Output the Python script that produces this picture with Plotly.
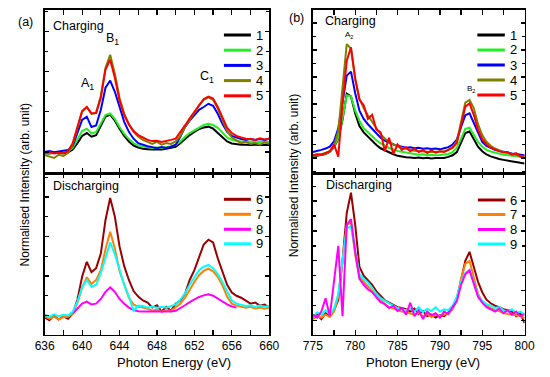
import plotly.graph_objects as go

W, H = 550, 377

# ---------------- data ----------------
energy_fe = [636.0, 636.5, 637.0, 637.5, 638.0, 638.5, 639.0, 639.5, 640.0, 640.5,
             641.0, 641.5, 642.0, 642.5, 643.0, 643.5, 644.0, 644.5, 645.0, 645.5,
             646.0, 646.5, 647.0, 647.5, 648.0, 648.5, 649.0, 649.5, 650.0, 650.5,
             651.0, 651.5, 652.0, 652.5, 653.0, 653.5, 654.0, 654.5, 655.0, 655.5,
             656.0, 656.5, 657.0, 657.5, 658.0, 658.5, 659.0, 659.5, 660.0]

energy_co = [775.0, 775.5, 776.0, 776.5, 777.0, 777.5, 778.0, 778.5, 779.0, 779.5,
             780.0, 780.5, 781.0, 781.5, 782.0, 782.5, 783.0, 783.5, 784.0, 784.5,
             785.0, 785.5, 786.0, 786.5, 787.0, 787.5, 788.0, 788.5, 789.0, 789.5,
             790.0, 790.5, 791.0, 791.5, 792.0, 792.5, 793.0, 793.5, 794.0, 794.5,
             795.0, 795.5, 796.0, 796.5, 797.0, 797.5, 798.0, 798.5, 799.0, 799.5, 800.0]

# (a) Charging
fe_c1 = [0.97, 0.96, 0.98, 0.97, 0.97, 0.99, 1.06, 1.22, 1.40, 1.47, 1.38, 1.42, 1.65, 1.88, 1.93,
         1.78, 1.58, 1.40, 1.26, 1.16, 1.11, 1.08, 1.07, 1.06, 1.07, 1.06, 1.08, 1.10, 1.13, 1.22,
         1.33, 1.42, 1.50, 1.57, 1.61, 1.63, 1.58, 1.48, 1.36, 1.26, 1.21, 1.19, 1.18, 1.18, 1.17,
         1.18, 1.17, 1.18, 1.17]
fe_c2 = [0.98, 0.97, 0.99, 0.98, 0.99, 1.02, 1.10, 1.30, 1.52, 1.58, 1.46, 1.50, 1.72, 1.92, 1.96,
         1.82, 1.62, 1.45, 1.32, 1.22, 1.16, 1.13, 1.12, 1.10, 1.11, 1.10, 1.12, 1.14, 1.17, 1.26,
         1.38, 1.47, 1.54, 1.61, 1.67, 1.70, 1.67, 1.60, 1.47, 1.36, 1.30, 1.27, 1.26, 1.25, 1.26,
         1.24, 1.25, 1.26, 1.24]
fe_c3 = [1.00, 1.02, 0.99, 1.01, 1.03, 1.05, 1.15, 1.45, 1.80, 1.88, 1.62, 1.66, 2.05, 2.60, 2.78,
         2.50, 2.10, 1.75, 1.50, 1.33, 1.22, 1.17, 1.14, 1.12, 1.09, 1.12, 1.10, 1.13, 1.18, 1.38,
         1.62, 1.78, 1.92, 2.05, 2.12, 2.20, 2.15, 1.95, 1.70, 1.50, 1.40, 1.35, 1.32, 1.30, 1.33,
         1.30, 1.32, 1.30, 1.33]
fe_c4 = [0.92, 0.88, 0.85, 0.93, 0.90, 0.98, 1.18, 1.60, 2.00, 2.12, 1.95, 1.98, 2.40, 3.10, 3.42,
         2.95, 2.35, 1.95, 1.70, 1.50, 1.38, 1.30, 1.24, 1.20, 1.25, 1.18, 1.22, 1.20, 1.26, 1.40,
         1.62, 1.80, 1.98, 2.16, 2.30, 2.36, 2.30, 2.08, 1.80, 1.52, 1.36, 1.28, 1.22, 1.25, 1.20,
         1.22, 1.18, 1.24, 1.20]
fe_c5 = [0.97, 0.99, 0.96, 0.98, 0.97, 1.02, 1.22, 1.62, 2.02, 2.12, 1.96, 1.97, 2.35, 3.05, 3.30,
         2.85, 2.28, 1.92, 1.68, 1.52, 1.42, 1.36, 1.30, 1.27, 1.28, 1.25, 1.27, 1.30, 1.33, 1.48,
         1.66, 1.84, 2.00, 2.18, 2.32, 2.38, 2.33, 2.12, 1.84, 1.60, 1.47, 1.40, 1.36, 1.33, 1.32,
         1.30, 1.34, 1.31, 1.33]

# (a) Discharging
fe_d6 = [0.95, 0.88, 1.00, 0.90, 0.98, 0.92, 1.05, 1.40, 1.98, 2.36, 2.10, 2.20, 2.57, 3.42, 3.98,
         3.50, 2.75, 2.25, 1.90, 1.62, 1.48, 1.38, 1.33, 1.20, 1.26, 1.10, 1.22, 1.12, 1.30, 1.38,
         1.55, 1.90, 2.15, 2.50, 2.80, 2.92, 2.85, 2.45, 2.10, 1.78, 1.58, 1.50, 1.45, 1.38, 1.30,
         1.33, 1.25, 1.28, 1.20]
fe_d7 = [0.98, 0.92, 0.97, 0.90, 0.96, 0.97, 1.05, 1.32, 1.70, 1.97, 1.80, 1.90, 2.15, 2.68, 3.12,
         2.70, 2.12, 1.78, 1.45, 1.28, 1.22, 1.20, 1.17, 1.12, 1.15, 1.10, 1.13, 1.12, 1.20, 1.30,
         1.45, 1.67, 1.85, 2.02, 2.13, 2.19, 2.12, 1.98, 1.76, 1.48, 1.30, 1.25, 1.22, 1.20, 1.22,
         1.18, 1.20, 1.17, 1.20]
fe_d8 = [None, None, None, None, None, None, 1.05, 1.18, 1.30, 1.35, 1.28, 1.30, 1.42, 1.60, 1.71,
         1.60, 1.42, 1.30, 1.20, 1.14, 1.11, 1.10, 1.10, 1.10, 1.10, 1.10, 1.10, 1.10, 1.12, 1.18,
         1.26, 1.34, 1.41, 1.47, 1.51, 1.54, 1.50, 1.43, 1.34, 1.28, 1.23, 1.20, None, None, None,
         None, None, None, None]
fe_d9 = [1.02, 0.97, 1.03, 0.98, 1.02, 1.00, 1.10, 1.35, 1.72, 1.90, 1.73, 1.78, 2.08, 2.50, 2.85,
         2.55, 2.15, 1.78, 1.48, 1.12, 1.25, 1.24, 1.20, 1.23, 1.19, 1.22, 1.20, 1.24, 1.28, 1.40,
         1.56, 1.78, 1.98, 2.15, 2.24, 2.28, 2.20, 2.05, 1.85, 1.60, 1.38, 1.30, 1.27, 1.24, 1.26,
         1.22, 1.25, 1.22, 1.24]

# (b) Charging
co_c1 = [1.05, 1.08, 1.10, 1.15, 1.23, 1.40, 1.72, 2.41, 3.38, 3.28, 2.65, 2.18, 1.95, 1.78, 1.64,
         1.48, 1.36, 1.28, 1.20, 1.14, 1.08, 1.05, 1.03, 1.02, 1.00, 1.02, 0.99, 1.01, 0.98, 1.00,
         0.99, 1.00, 1.04, 1.10, 1.22, 1.55, 1.92, 1.98, 1.72, 1.42, 1.25, 1.13, 1.06, 1.00, 0.96,
         0.93, 0.90, 0.86, 0.84, 0.82, 0.80]
co_c2 = [1.10, 1.12, 1.15, 1.18, 1.26, 1.42, 1.75, 2.45, 3.32, 3.28, 2.75, 2.38, 2.10, 1.95, 1.82,
         1.66, 1.54, 1.45, 1.37, 1.32, 1.26, 1.23, 1.20, 1.18, 1.15, 1.12, 1.14, 1.10, 1.12, 1.10,
         1.11, 1.12, 1.15, 1.22, 1.38, 1.72, 2.08, 2.12, 1.88, 1.60, 1.42, 1.30, 1.24, 1.20, 1.15,
         1.12, 1.10, 1.08, 1.06, 1.05, 1.05]
co_c3 = [1.22, 1.25, 1.30, 1.35, 1.42, 1.62, 2.10, 3.05, 4.05, 4.20, 3.40, 2.75, 2.45, 2.25, 2.08,
         1.92, 1.75, 1.64, 1.56, 1.50, 1.45, 1.42, 1.38, 1.40, 1.36, 1.38, 1.34, 1.36, 1.33, 1.35,
         1.32, 1.36, 1.40, 1.50, 1.68, 2.15, 2.58, 2.65, 2.30, 1.90, 1.60, 1.45, 1.36, 1.30, 1.26,
         1.22, 1.20, 1.17, 1.15, 1.12, 1.10]
co_c4 = [1.05, 1.10, 1.12, 1.15, 1.23, 1.45, 2.00, 3.60, 5.22, 5.05, 3.90, 3.20, 2.85, 2.58, 2.32,
         2.10, 1.88, 1.72, 1.60, 1.50, 1.43, 1.38, 1.33, 1.30, 1.27, 1.25, 1.24, 1.23, 1.22, 1.23,
         1.22, 1.25, 1.30, 1.40, 1.62, 2.30, 3.05, 3.15, 2.85, 2.25, 1.85, 1.60, 1.45, 1.35, 1.28,
         1.22, 1.18, 1.14, 1.10, 1.07, 1.05]
co_c5 = [1.10, 1.14, 1.12, 1.18, 1.25, 1.50, 1.05, 3.00, 4.60, 5.10, 3.95, 3.15, 2.95, 2.45, 2.60,
         2.05, 1.95, 1.25, 1.75, 1.15, 1.50, 1.30, 1.40, 1.25, 1.35, 1.22, 1.30, 1.18, 1.28, 1.20,
         1.25, 1.22, 1.30, 1.38, 1.55, 2.20, 2.90, 3.02, 2.60, 2.05, 1.70, 1.50, 1.38, 1.32, 1.25,
         1.20, 1.22, 1.12, 1.18, 1.05, 1.10]

# (b) Discharging
co_d6 = [1.10, 1.20, 1.05, 1.25, 1.15, 1.35, 1.70, 3.00, 4.60, 5.28, 4.20, 2.80, 2.50, 2.35, 2.20,
         1.98, 1.82, 1.68, 1.60, 1.52, 1.45, 1.42, 1.38, 1.30, 1.40, 1.22, 1.32, 1.15, 1.20, 1.10,
         1.18, 1.15, 1.28, 1.40, 1.70, 2.30, 3.00, 3.30, 2.75, 2.30, 1.95, 1.70, 1.58, 1.50, 1.45,
         1.38, 1.35, 1.30, 1.15, 1.25, 0.92]
co_d7 = [1.05, 1.15, 1.10, 1.20, 1.12, 1.30, 1.80, 3.10, 4.20, 4.30, 3.20, 2.45, 2.30, 2.15, 2.00,
         1.82, 1.68, 1.55, 1.45, 1.40, 1.35, 1.30, 1.28, 1.25, 1.20, 1.25, 1.15, 1.22, 1.12, 1.20,
         1.15, 1.20, 1.25, 1.38, 1.75, 2.40, 2.90, 3.00, 2.40, 1.90, 1.65, 1.50, 1.42, 1.35, 1.32,
         1.25, 1.22, 1.20, 1.18, 1.15, 1.08]
co_d8 = [1.20, 1.10, 1.30, 1.75, 1.15, 2.25, 3.50, 1.15, 4.20, 4.40, 3.30, 2.40, 2.20, 2.05, 1.95,
         1.78, 1.62, 1.55, 1.42, 1.50, 1.32, 1.42, 1.20, 1.60, 1.15, 1.35, 1.05, 1.30, 1.18, 1.25,
         1.10, 1.30, 1.22, 1.45, 1.65, 2.20, 2.55, 2.68, 2.20, 1.80, 1.60, 1.45, 1.38, 1.30, 1.40,
         1.25, 1.35, 1.20, 1.30, 1.15, 1.22]
co_d9 = [1.12, 1.28, 1.18, 1.35, 1.20, 1.40, 1.90, 3.00, 4.10, 4.15, 3.30, 2.55, 2.40, 2.28, 2.10,
         1.90, 1.75, 1.65, 1.58, 1.50, 1.42, 1.38, 1.35, 1.40, 1.30, 1.45, 1.28, 1.40, 1.32, 1.45,
         1.30, 1.38, 1.35, 1.50, 1.80, 2.30, 2.60, 2.70, 2.25, 1.85, 1.65, 1.55, 1.50, 1.42, 1.45,
         1.35, 1.30, 1.38, 1.25, 1.30, 1.20]

series_labels = ["1", "2", "3", "4", "5", "6", "7", "8", "9"]
colors = {"1": "#000000", "2": "#22ee22", "3": "#0000ff", "4": "#808000", "5": "#ff0000",
          "6": "#990000", "7": "#ff8000", "8": "#ff00ff", "9": "#00ffff"}

panels = {
    "tl": dict(x=energy_fe, series=[("1", fe_c1), ("2", fe_c2), ("3", fe_c3), ("4", fe_c4), ("5", fe_c5)]),
    "bl": dict(x=energy_fe, series=[("6", fe_d6), ("7", fe_d7), ("8", fe_d8), ("9", fe_d9)]),
    "tr": dict(x=energy_co, series=[("1", co_c1), ("2", co_c2), ("3", co_c3), ("4", co_c4), ("5", co_c5)]),
    "br": dict(x=energy_co, series=[("6", co_d6), ("7", co_d7), ("9", co_d9), ("8", co_d8)]),
}

# ---------------- layout helpers ----------------
def fx(px):
    return px / W

def fy(py):
    return 1 - py / H

FONT = "Liberation Sans, Arial, sans-serif"

axis_ids = {"tl": ("x", "y"), "bl": ("x2", "y2"), "tr": ("x3", "y3"), "br": ("x4", "y4")}

fig = go.Figure()
for key, p in panels.items():
    xa, ya = axis_ids[key]
    for lab, vals in p["series"]:
        fig.add_trace(go.Scatter(x=p["x"], y=vals, mode="lines",
                                 line=dict(color=colors[lab], width=2),
                                 xaxis=xa, yaxis=ya, showlegend=False,
                                 connectgaps=False, hoverinfo="skip"))

def xax(dom, rng, dtick, minor, anchor, labels):
    return dict(domain=dom, range=rng, anchor=anchor, dtick=dtick, tick0=rng[0],
                showticklabels=labels, ticks="inside", ticklen=5, tickwidth=1.2,
                tickcolor="black", showline=True, linecolor="black", linewidth=1.5,
                mirror="allticks", showgrid=False, zeroline=False,
                minor=dict(dtick=minor, ticks="inside", ticklen=5, tickwidth=1.2, tickcolor="black", showgrid=False),
                tickfont=dict(family=FONT, size=12, color="black"))

def yax(dom, rng, anchor):
    return dict(domain=dom, range=rng, anchor=anchor, dtick=1, tick0=0,
                showticklabels=False, ticks="inside", ticklen=4, tickwidth=1.2,
                tickcolor="black", showline=True, linecolor="black", linewidth=1.5,
                mirror="allticks", showgrid=False, zeroline=False,
                minor=dict(dtick=0.5, ticks="inside", ticklen=3, tickwidth=1.2, tickcolor="black", showgrid=False))

L = [fx(36), fx(269)]
R = [fx(314.3), fx(534)]
TOP = [fy(173), fy(9.5)]
BOT = [fy(334.5), fy(173)]

fig.update_layout(
    xaxis=xax(L, [636, 660], 4, 2, "y", False),
    yaxis=yax(TOP, [0.475, 4.55], "x"),
    xaxis2=xax(L, [636, 660], 4, 2, "y2", True),
    yaxis2=yax(BOT, [0.519, 4.61], "x2"),
    xaxis3=xax(R, [775, 800], 5, 2.5, "y3", False),
    yaxis3=yax(TOP, [0.444, 6.5], "x3"),
    xaxis4=xax(R, [775, 800], 5, 2.5, "y4", True),
    yaxis4=yax(BOT, [0.535, 5.94], "x4"),
)

annotations = []
shapes = []

def text(x, y, s, size=12, angle=0, xanchor="center"):
    annotations.append(dict(x=fx(x), y=fy(y), xref="paper", yref="paper", text=s,
                            showarrow=False, xanchor=xanchor, yanchor="middle", textangle=angle,
                            font=dict(family=FONT, size=size, color="black")))

# legends (drawn per panel)
legend_rows = {
    "tl": dict(x0=222, x1=250, tx=253, ys=[35, 50.2, 65.4, 80.6, 95.8]),
    "bl": dict(x0=222, x1=250, tx=253, ys=[199.3, 214.3, 229.3, 243.8]),
    "tr": dict(x0=485, x1=513.5, tx=516.5, ys=[35, 50, 65, 80, 95]),
    "br": dict(x0=485.5, x1=514, tx=517, ys=[200, 214.5, 229.5, 244]),
}
for key, lr in legend_rows.items():
    labs = sorted([lab for lab, _ in panels[key]["series"]])
    for lab, yy in zip(labs, lr["ys"]):
        shapes.append(dict(type="line", xref="paper", yref="paper",
                           x0=fx(lr["x0"]), x1=fx(lr["x1"]), y0=fy(yy), y1=fy(yy),
                           line=dict(color=colors[lab], width=3)))
        text(lr["tx"], yy, lab, size=13, xanchor="left")

# panel texts
text(16, 22, "(a)", 12.5)
text(297, 18, "(b)", 12.5)
text(42.5, 26, "Charging", 12.5, xanchor="left")
text(43, 186, "Discharging", 12.5, xanchor="left")
text(325, 20.5, "Charging", 12.5, xanchor="left")
text(325.5, 185, "Discharging", 12.5, xanchor="left")

# peak labels
text(80, 84, "A<sub>1</sub>", 12.5)
text(106, 39, "B<sub>1</sub>", 12.5)
text(204, 77, "C<sub>1</sub>", 12.5)
text(352, 35, "A<sub>2</sub>", 8)
text(478, 89, "B<sub>2</sub>", 8)

# axis titles
text(170, 362, "Photon Energy (eV)", 13)
text(429, 362, "Photon Energy (eV)", 13)
text(16, 185, "Normalised Intensity (arb. unit)", 12, angle=-90)
text(295, 176, "Normalised Intensity (arb. unit)", 12, angle=-90)

fig.update_layout(width=W, height=H, margin=dict(l=0, r=0, t=0, b=0),
                  paper_bgcolor="white", plot_bgcolor="white",
                  annotations=annotations, shapes=shapes, showlegend=False,
                  font=dict(family=FONT, color="black"))

fig.write_html("out.html",
               config={"displayModeBar": False, "staticPlot": True},
               post_script="document.body.style.margin='0';document.body.style.overflow='hidden';")
